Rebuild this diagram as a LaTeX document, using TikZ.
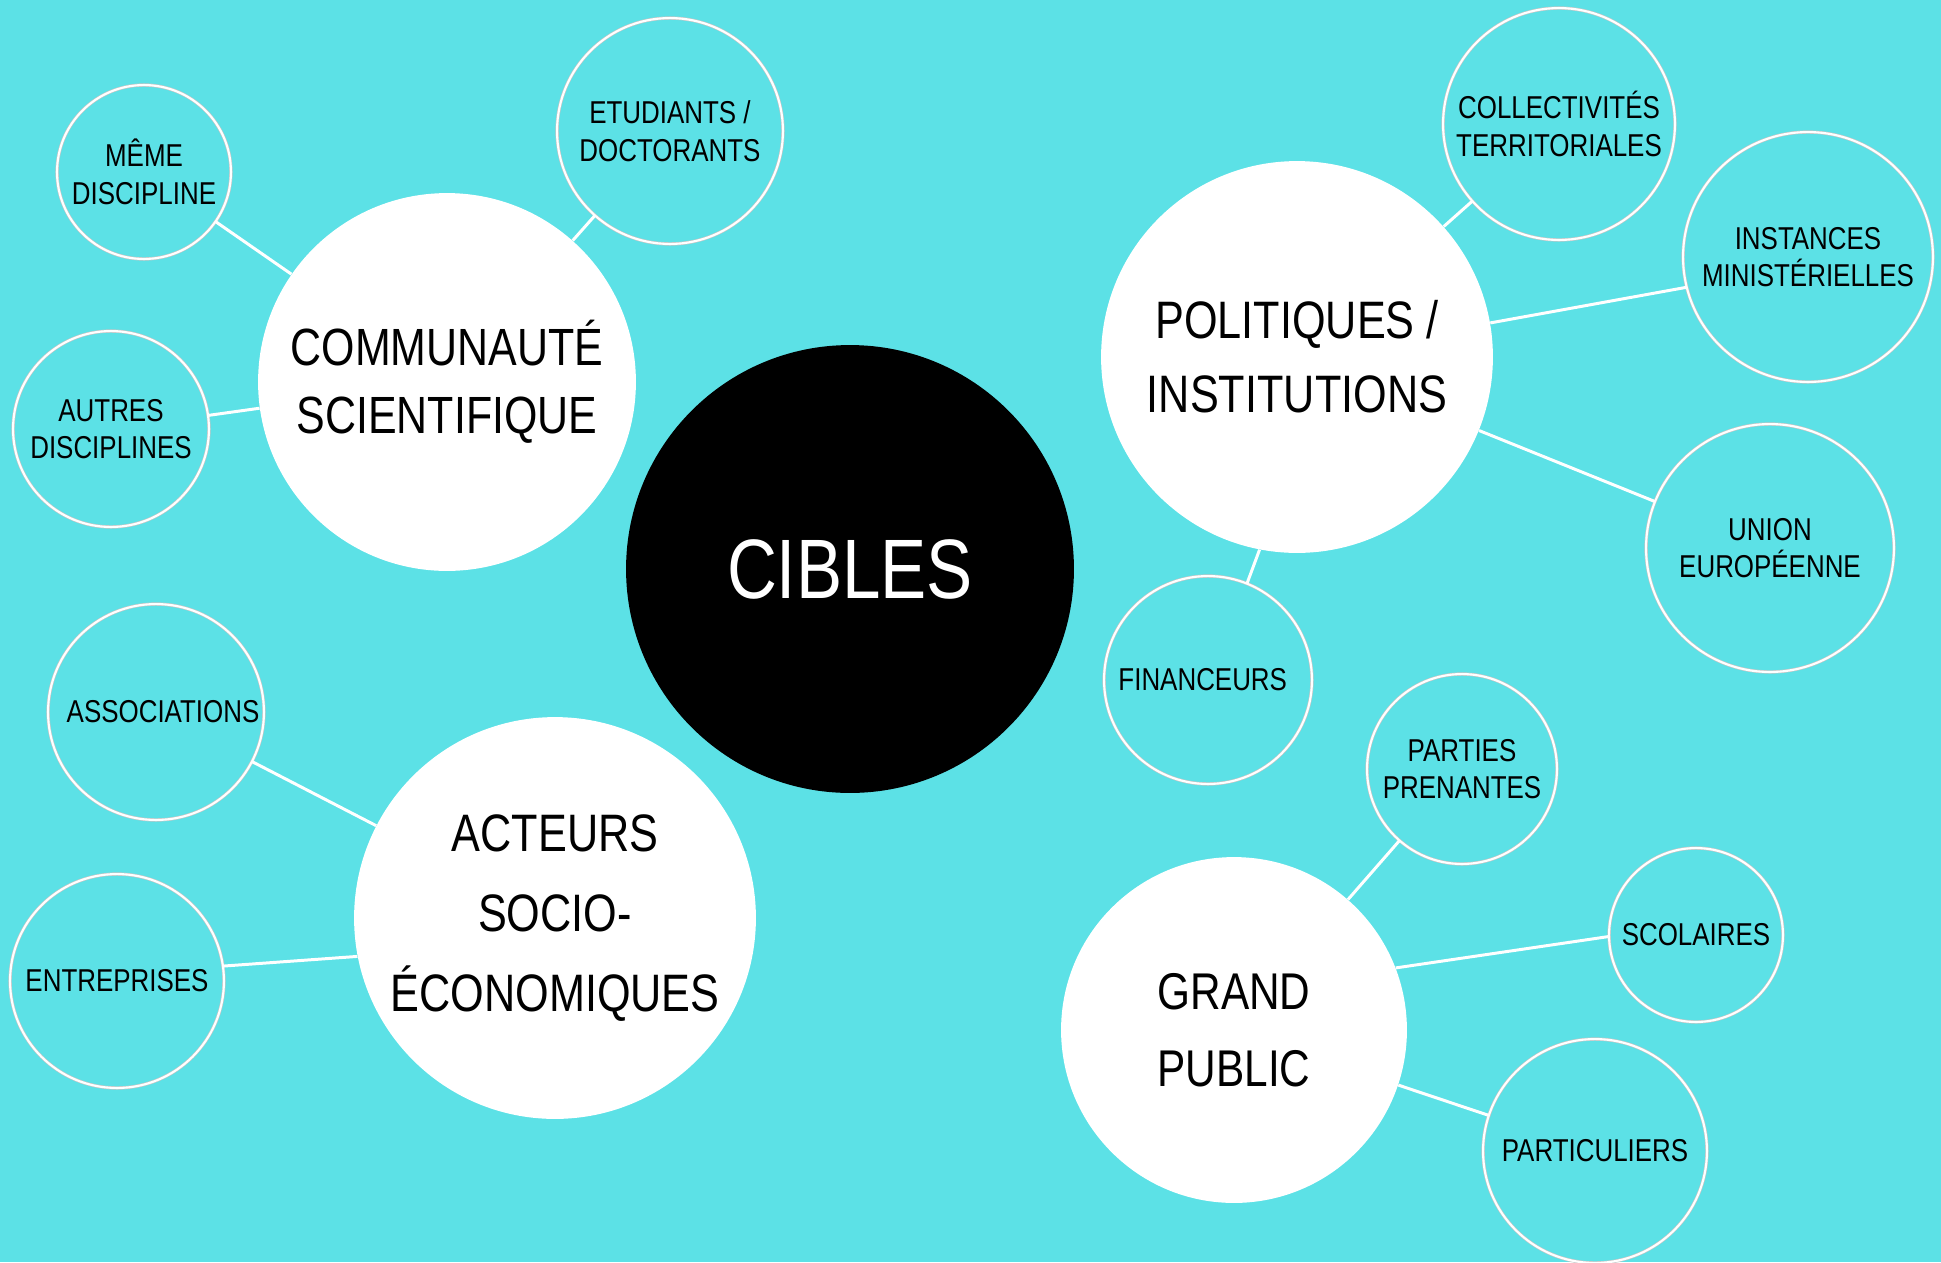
\documentclass[tikz,border=0pt]{standalone}
\usepackage{fontspec}
\setmainfont{Liberation Sans}[FakeStretch=0.82]
\definecolor{lagoon}{RGB}{92,225,230}

\tikzset{
    hub/.style = {circle, fill = white, align = center, inner sep = 0pt, minimum size = #1*0.04cm},
    leaf/.style = {circle, draw = gray!45, line width = 0.35pt, double = white, double distance = 1.2pt,
        align = center, inner sep = 0pt, minimum size = #1*0.04cm, font = \fontsize{18}{21.5}\selectfont},
    link/.style = {draw = white, line width = 1.7pt}
}

\begin{document}
\begin{tikzpicture}[x = 0.02cm, y = -0.02cm]
    \fill [lagoon] (0,0) rectangle (1941,1262);
    \useasboundingbox (0,0) rectangle (1941,1262);

    \node [circle, fill = black, text = white, minimum size = 8.96cm, font = \fontsize{48}{56}\selectfont] (cibles) at (850,569) {CIBLES};

    \node [hub = 189, font = \fontsize{29.8}{38.5}\selectfont] (comm) at (447,382) {COMMUNAUTÉ\\SCIENTIFIQUE};
    \node [hub = 196, font = \fontsize{30}{42}\selectfont] (pol) at (1297,357) {POLITIQUES /\\INSTITUTIONS};
    \node [hub = 201, font = \fontsize{30}{45.4}\selectfont] (acteurs) at (555,918) {ACTEURS\\SOCIO-\\ÉCONOMIQUES};
    \node [hub = 173, font = \fontsize{29.4}{43.6}\selectfont] (public) at (1234,1030) {GRAND\\PUBLIC};

    \node [leaf = 87] (meme) at (144,172) {MÊME\\DISCIPLINE};
    \node [leaf = 113] (etud) at (670,131) {ETUDIANTS /\\DOCTORANTS};
    \node [leaf = 98] (autres) at (111,429) {AUTRES\\DISCIPLINES};

    \node [leaf = 108] (assoc) at (156,712) {\hspace*{8pt}ASSOCIATIONS};
    \node [leaf = 107] (entr) at (117,981) {ENTREPRISES};

    \node [leaf = 116] (coll) at (1559,124) {COLLECTIVITÉS\\TERRITORIALES};
    \node [leaf = 125] (inst) at (1808,257) {INSTANCES\\MINISTÉRIELLES};
    \node [leaf = 124] (ue) at (1770,548) {UNION\\EUROPÉENNE};
    \node [leaf = 104] (fin) at (1208,680) {FINANCEURS\hspace*{6pt}};

    \node [leaf = 95] (parties) at (1462,769) {PARTIES\\PRENANTES};
    \node [leaf = 87] (scol) at (1696,935) {SCOLAIRES};
    \node [leaf = 112] (partic) at (1595,1151) {PARTICULIERS};

    \draw [link] (comm) -- (meme);
    \draw [link] (comm) -- (etud);
    \draw [link] (comm) -- (autres);

    \draw [link] (acteurs) -- (assoc);
    \draw [link] (acteurs.191) -- (entr.8);

    \draw [link] (pol) -- (coll);
    \draw [link] (pol.10) -- (inst.194);
    \draw [link] (pol) -- (ue);
    \draw [link] (pol.259) -- (fin.68);

    \draw [link] (public) -- (parties);
    \draw [link] (public.21) -- (scol.181);
    \draw [link] (public) -- (partic);
\end{tikzpicture}
\end{document}
